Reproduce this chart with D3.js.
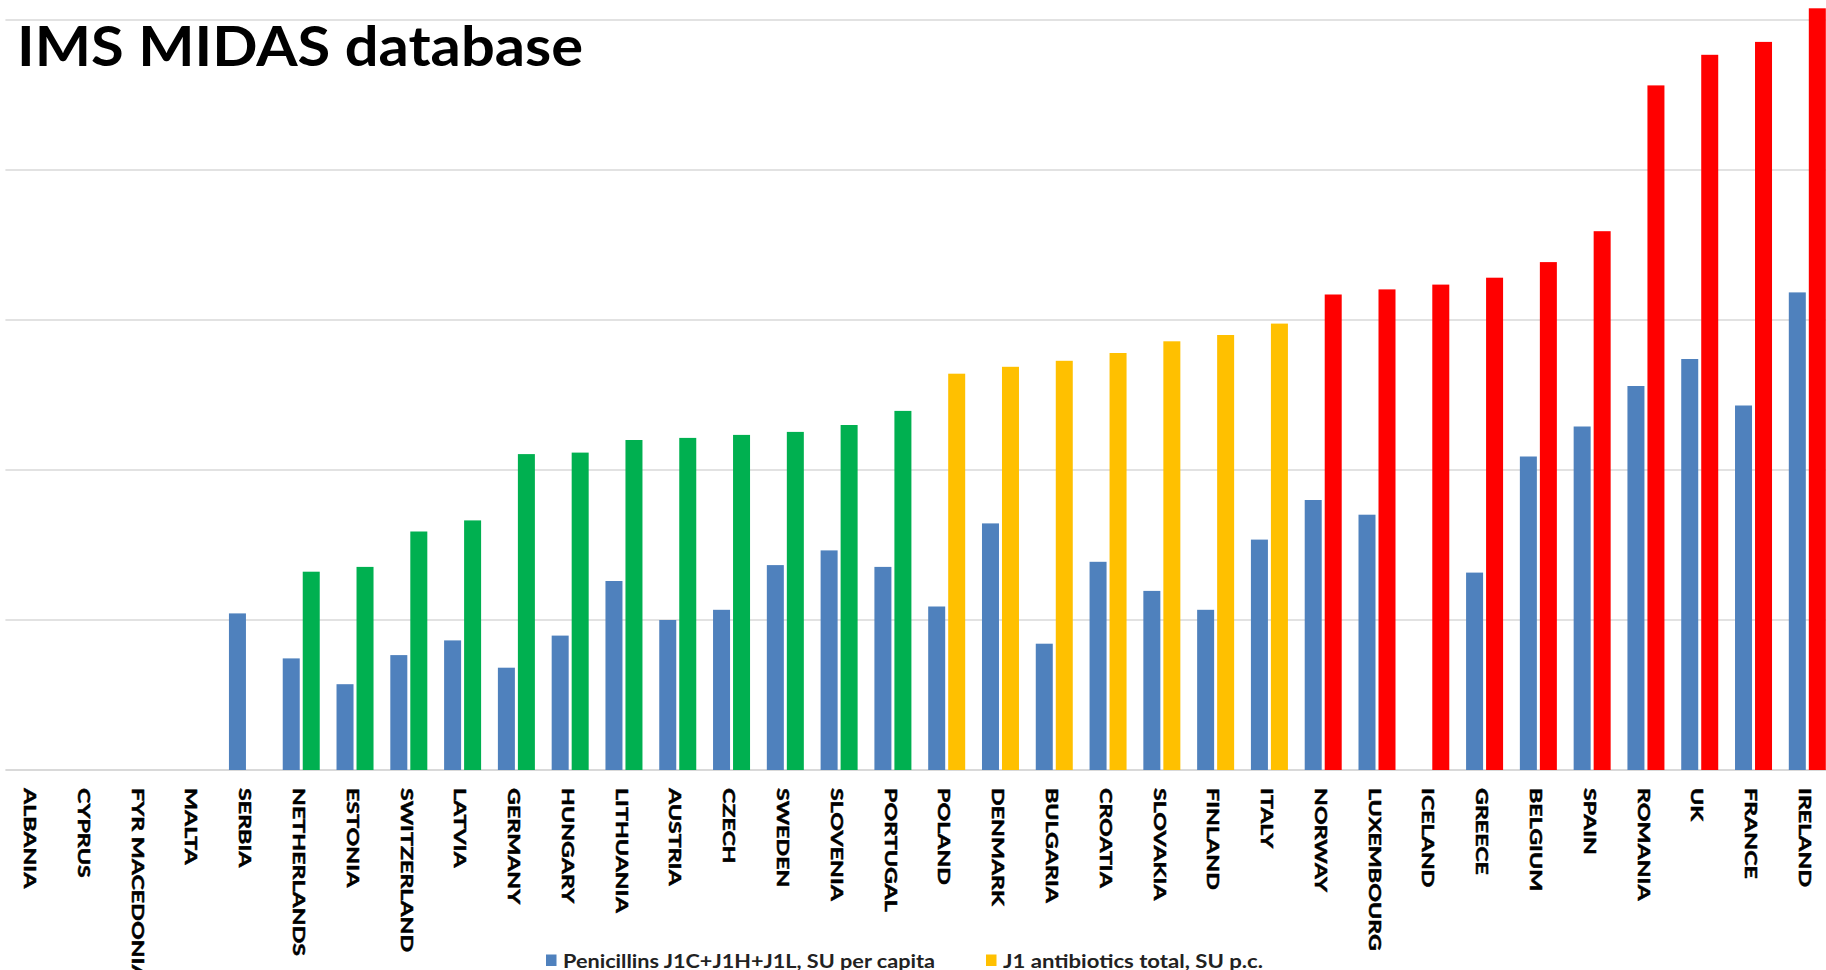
<!DOCTYPE html>
<html>
<head>
<meta charset="utf-8">
<script src="https://cdn.jsdelivr.net/npm/d3@7"></script>
<style>
  body { margin: 0; background: #fff; }
  svg { display: block; font-family: Lato, 'Open Sans', sans-serif; }
</style>
</head>
<body>
<svg id="chart"></svg>
<script>
const countries = ['ALBANIA', 'CYPRUS', 'FYR MACEDONIA', 'MALTA', 'SERBIA', 'NETHERLANDS', 'ESTONIA',
  'SWITZERLAND', 'LATVIA', 'GERMANY', 'HUNGARY', 'LITHUANIA', 'AUSTRIA', 'CZECH', 'SWEDEN', 'SLOVENIA',
  'PORTUGAL', 'POLAND', 'DENMARK', 'BULGARIA', 'CROATIA', 'SLOVAKIA', 'FINLAND', 'ITALY', 'NORWAY',
  'LUXEMBOURG', 'ICELAND', 'GREECE', 'BELGIUM', 'SPAIN', 'ROMANIA', 'UK', 'FRANCE', 'IRELAND'];

// Penicillins J1C+J1H+J1L, SU per capita
const penicillins = [null, null, null, null, 5.22, 3.72, 2.86, 3.83, 4.32, 3.41, 4.48, 6.30, 5.00, 5.34,
  6.83, 7.32, 6.77, 5.45, 8.22, 4.21, 6.94, 5.97, 5.34, 7.68, 9.00, 8.51, null, 6.58, 10.45, 11.45,
  12.80, 13.70, 12.15, 15.92];

// J1 antibiotics total, SU p.c.
const totals = [null, null, null, null, null, 6.61, 6.77, 7.95, 8.32, 10.53, 10.58, 11.00, 11.07, 11.17,
  11.27, 11.50, 11.97, 13.21, 13.44, 13.64, 13.90, 14.29, 14.50, 14.88, 15.85, 16.02, 16.18, 16.41,
  16.93, 17.96, 22.82, 23.84, 24.27, 25.39];

// consumption tier of each country (colours the total bar)
const tiers = ['low', 'low', 'low', 'low', 'low', 'low', 'low', 'low', 'low', 'low', 'low', 'low', 'low',
  'low', 'low', 'low', 'low', 'mid', 'mid', 'mid', 'mid', 'mid', 'mid', 'mid', 'high', 'high', 'high',
  'high', 'high', 'high', 'high', 'high', 'high', 'high'];

const gridTicks = [0, 5, 10, 15, 20, 25];
const seriesKeys = ['penicillins', 'total'];
const legendLabels = ['Penicillins J1C+J1H+J1L, SU per capita', 'J1 antibiotics total, SU p.c.'];

const width = 1826;
const height = 970;

const svg = d3.select('#chart')
  .attr('width', width)
  .attr('height', height);

const x0 = d3.scaleBand()
  .domain(countries)
  .range([5.4, 1834.2])
  .padding(0);

const x1 = d3.scaleBand()
  .domain(seriesKeys)
  .range([0, 37])
  .paddingInner(0.15);

const y = d3.scaleLinear()
  .domain([0, 25])
  .range([770, 20]);

const tierColor = d3.scaleOrdinal()
  .domain(['low', 'mid', 'high'])
  .range(['#00B050', '#FFC000', '#FF0000']);

const penColor = '#4F81BD';

// gridlines
svg.append('g')
  .selectAll('line')
  .data(gridTicks)
  .enter()
  .append('line')
  .attr('x1', 5.4)
  .attr('x2', width)
  .attr('y1', d => y(d))
  .attr('y2', d => y(d))
  .attr('stroke', '#d9d9d9')
  .attr('stroke-width', d => d === 0 ? 2 : 1.5);

// bars
const rows = countries.map((c, i) => ({
  country: c,
  tier: tiers[i],
  values: [
    { key: 'penicillins', value: penicillins[i] },
    { key: 'total', value: totals[i] }
  ]
}));

const offset = (x0.bandwidth() - 37) / 2;

svg.append('g')
  .selectAll('g')
  .data(rows)
  .enter()
  .append('g')
  .attr('transform', d => `translate(${x0(d.country) + offset}, 0)`)
  .each(function (row) {
    d3.select(this)
      .selectAll('rect')
      .data(row.values.filter(v => v.value != null))
      .enter()
      .append('rect')
      .attr('x', d => x1(d.key))
      .attr('width', x1.bandwidth())
      .attr('y', d => y(d.value))
      .attr('height', d => y(0) - y(d.value))
      .attr('fill', d => d.key === 'penicillins' ? penColor : tierColor(row.tier));
  });

// category labels, rotated and stretched along the reading direction
// (FYR MACEDONIA runs off the bottom edge, as in the original)
svg.append('g')
  .selectAll('text')
  .data(countries)
  .enter()
  .append('text')
  .attr('transform', d => `translate(${x0(d) + x0.bandwidth() / 2 - 1.5}, 788) rotate(90) scale(1.33, 1)`)
  .attr('dominant-baseline', 'central')
  .attr('font-size', 17.5)
  .attr('font-weight', 700)
  .attr('fill', '#000')
  .attr('stroke', '#000')
  .attr('stroke-width', 0.5)
  .text(d => d);

// title
svg.append('text')
  .attr('x', 17)
  .attr('y', 66)
  .attr('font-size', 55)
  .attr('font-weight', 700)
  .attr('fill', '#000')
  .attr('textLength', 566)
  .attr('lengthAdjust', 'spacingAndGlyphs')
  .text('IMS MIDAS database');

// legend
const legend = svg.append('g').attr('id', 'legend');
const legendItems = [
  { label: legendLabels[0], color: penColor, x: 546, len: 372 },
  { label: legendLabels[1], color: tierColor('mid'), x: 986, len: 260 }
];

legend.selectAll('rect')
  .data(legendItems)
  .enter()
  .append('rect')
  .attr('x', d => d.x)
  .attr('y', 954.5)
  .attr('width', 10.5)
  .attr('height', 11.5)
  .attr('fill', d => d.color);

legend.selectAll('text')
  .data(legendItems)
  .enter()
  .append('text')
  .attr('x', d => d.x + 17)
  .attr('y', 967.5)
  .attr('font-size', 19.5)
  .attr('font-weight', 700)
  .attr('fill', '#222')
  .attr('textLength', d => d.len)
  .attr('lengthAdjust', 'spacingAndGlyphs')
  .text(d => d.label);
</script>
</body>
</html>
